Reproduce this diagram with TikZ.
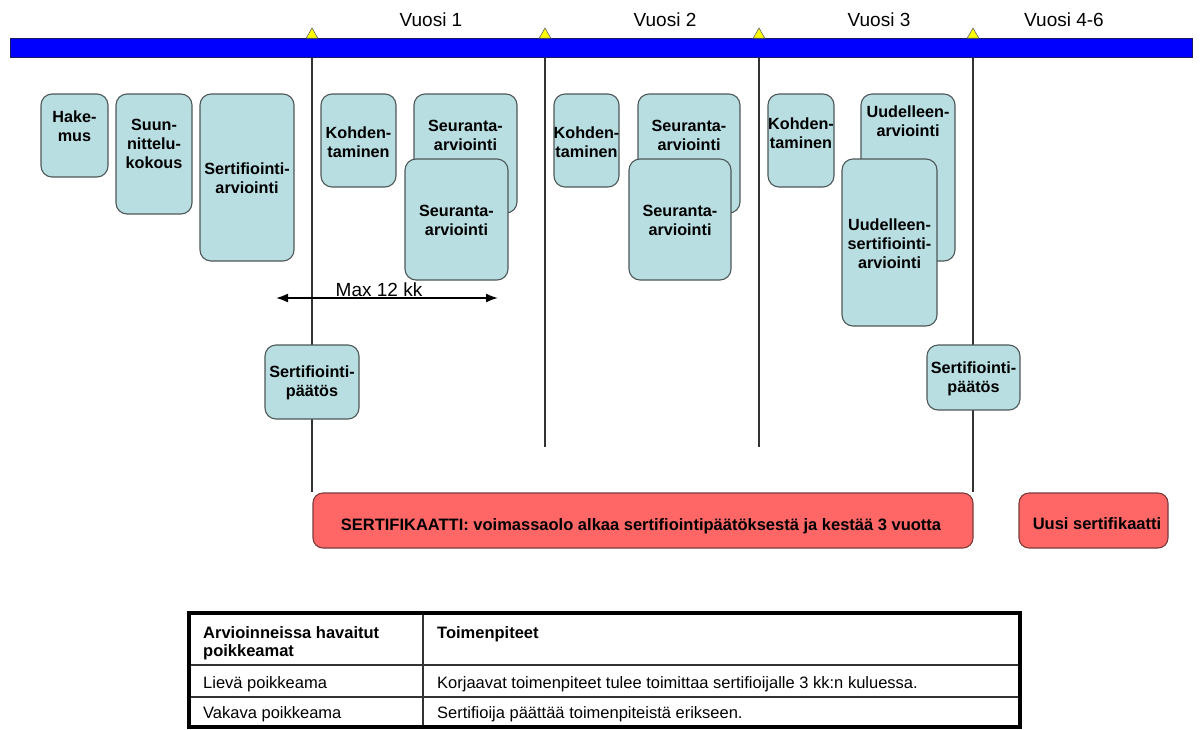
\documentclass[tikz,border=0pt]{standalone}
\usepackage{fontspec}
\setmainfont{Liberation Sans}
\usetikzlibrary{arrows.meta,fit,shapes.geometric}
\definecolor{boxfill}{HTML}{B8DEE2}
\definecolor{boxline}{HTML}{4E5858}
\definecolor{redfill}{HTML}{FF6666}
\definecolor{redline}{HTML}{7A3B3B}
\definecolor{barblue}{HTML}{0000FF}
\definecolor{barline}{HTML}{1A1A60}
\definecolor{triyel}{HTML}{FFFF00}
\definecolor{lineg}{HTML}{333333}
\tikzset{
  bx/.style={draw=boxline, fill=boxfill, line width=1.1pt, rounded corners=11pt, inner sep=0pt},
  bt/.style={font=\bfseries\fontsize{16.2}{19}\selectfont, align=center, inner sep=0pt, text=black},
  rb/.style={draw=redline, fill=redfill, line width=1.1pt, rounded corners=10pt, inner sep=0pt},
  rt/.style={font=\bfseries\fontsize{16.5}{19}\selectfont, inner sep=0pt, text=black},
  vl/.style={draw=lineg, line width=1.1pt},
  yr/.style={font=\fontsize{19}{22}\selectfont, anchor=base, inner sep=0pt},
  tt/.style={font=\fontsize{16.5}{18}\selectfont, anchor=base west, inner sep=0pt},
  ttb/.style={tt, font=\bfseries\fontsize{16.5}{18}\selectfont},
  tri/.style={regular polygon, regular polygon sides=3, minimum size=13.5pt, inner sep=0pt, fill=triyel, draw=black!60, line width=0.6pt},
  barst/.style={fill=barblue, draw=barline, line width=0.8pt, inner sep=0pt},
}
\begin{document}
\begin{tikzpicture}[x=1pt,y=-1pt]
\useasboundingbox[fill=white] (0,0) rectangle (1200,729);

% timeline bar
\node[barst, fit={(10,38) (1192,57.5)}] (bar) {};
\node[tri] (t1) at (312,34.8) {};
\node[tri] (t2) at (545,34.8) {};
\node[tri] (t3) at (759,34.8) {};
\node[tri] (t4) at (973,34.8) {};

% year labels
\node[yr] (y1) at (431,26.5) {Vuosi 1};
\node[yr] (y2) at (665,26.5) {Vuosi 2};
\node[yr] (y3) at (879,26.5) {Vuosi 3};
\node[yr] (y4) at (1064,26.5) {Vuosi 4-6};

% certificate boxes (drawn early so lines meet them)
\node[rb, fit={(313,493) (973,548)}] (cert) {};
\node[rt] (cert-t) at (641,526) {SERTIFIKAATTI: voimassaolo alkaa sertifiointipäätöksestä ja kestää 3 vuotta};
\node[rb, fit={(1019,493) (1168,548)}] (new) {};
\node[rt] (new-t) at (1097,523.5) {Uusi sertifikaatti};

% end points of short year lines
\coordinate (e2) at (545,447);
\coordinate (e3) at (759,447);

% vertical year lines
\draw[vl] (t1 |- bar.south) -- (t1 |- cert.north);
\draw[vl] (t2 |- bar.south) -- (e2);
\draw[vl] (t3 |- bar.south) -- (e3);
\draw[vl] (t4 |- bar.south) -- (t4 |- cert.north);

% activity boxes
\node[bx, fit={(41,94) (108,177)}] (hak) {};
\node[bt] (hak-t) at (74.5,126) {Hake-\\mus};
\node[bx, fit={(116,94) (192,214)}] (suu) {};
\node[bt] (suu-t) at (154,144) {Suun-\\nittelu-\\kokous};
\node[bx, fit={(200,94) (294,261)}] (sar) {};
\node[bt] (sar-t) at (247,178.5) {Sertifiointi-\\arviointi};

\node[bx, fit={(321,94) (396,187)}] (koh1) {};
\node[bt] (koh1-t) at (358.5,142.5) {Kohden-\\taminen};
\node[bx, fit={(414,94) (517,213)}] (seb1) {};
\node[bt] (seb1-t) at (465.5,135) {Seuranta-\\arviointi};
\node[bx, fit={(405,159) (508,280)}] (sef1) {};
\node[bt] (sef1-t) at (456.5,220) {Seuranta-\\arviointi};

\node[bx, fit={(554,94) (619,187)}] (koh2) {};
\node[bt] (koh2-t) at (586.5,142.5) {Kohden-\\taminen};
\node[bx, fit={(638,94) (740,213)}] (seb2) {};
\node[bt] (seb2-t) at (689,135) {Seuranta-\\arviointi};
\node[bx, fit={(629,159) (731,280)}] (sef2) {};
\node[bt] (sef2-t) at (680,220) {Seuranta-\\arviointi};

\node[bx, fit={(768,94) (834,187)}] (koh3) {};
\node[bt] (koh3-t) at (801,133) {Kohden-\\taminen};
\node[bx, fit={(861,94) (955,261)}] (uub) {};
\node[bt] (uub-t) at (908,121) {Uudelleen-\\arviointi};
\node[bx, fit={(842,159) (937,326)}] (uuf) {};
\node[bt] (uuf-t) at (889.5,243.5) {Uudelleen-\\sertifiointi-\\arviointi};

\node[bx, fit={(265,345) (359,419)}] (pa1) {};
\node[bt] (pa1-t) at (312,383) {Sertifiointi-\\päätös};
\node[bx, fit={(927,345) (1020,410)}] (pa2) {};
\node[bt] (pa2-t) at (973.5,379) {Sertifiointi-\\päätös};

% Max 12 kk arrow
\coordinate (a1) at (276,298);
\coordinate (a2) at (498,298);
\draw[line width=1.8pt, {Latex[length=12pt,width=9pt]}-{Latex[length=12pt,width=9pt]}] (a1) -- (a2);
\node[yr] (max) at (379,296) {Max 12 kk};

% table
\draw[line width=1.2pt, draw=black!80] (189,665) -- (1020,665);
\draw[line width=1.2pt, draw=black!80] (189,697) -- (1020,697);
\draw[line width=1.2pt, draw=black!80] (423,613) -- (423,727);
\draw[line width=3.5pt] (189,613) rectangle (1020,727);
\node[ttb] (h1) at (203,638) {Arvioinneissa havaitut};
\node[ttb] (h1b) at (203,656) {poikkeamat};
\node[ttb] (h2) at (437,638) {Toimenpiteet};
\node[tt] (r1a) at (203,688) {Lievä poikkeama};
\node[tt] (r1b) at (437,688) {Korjaavat toimenpiteet tulee toimittaa sertifioijalle 3 kk:n kuluessa.};
\node[tt] (r2a) at (203,718) {Vakava poikkeama};
\node[tt] (r2b) at (437,718) {Sertifioija päättää toimenpiteistä erikseen.};
\end{tikzpicture}
\end{document}
